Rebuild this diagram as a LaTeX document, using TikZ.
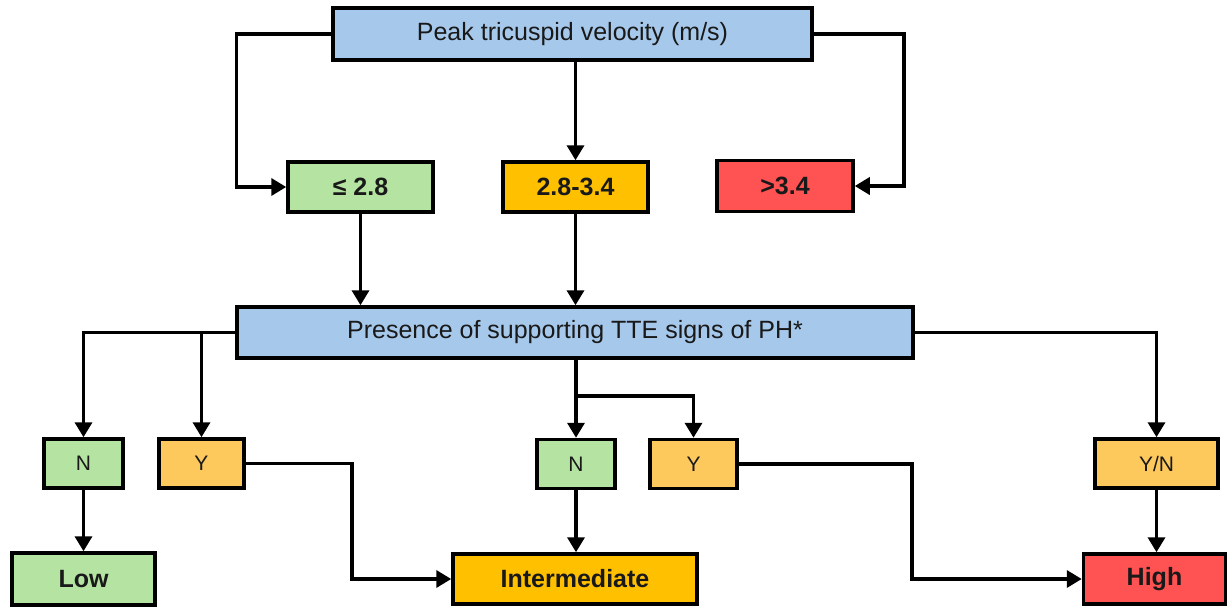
\documentclass[tikz,border=0pt]{standalone}
\usepackage{fontspec}
\setmainfont{Liberation Sans}
\usetikzlibrary{arrows.meta}
\definecolor{headblue}{RGB}{166,200,235}
\definecolor{lowgreen}{RGB}{181,228,162}
\definecolor{midgold}{RGB}{255,192,0}
\definecolor{ansorange}{RGB}{253,200,92}
\definecolor{highred}{RGB}{255,82,82}
\tikzset{
  box/.style={draw=black, line width=3.5pt, inner sep=0pt, text=black!90},
  headbox/.style={box, fill=headblue, font=\fontsize{25}{30}\selectfont},
  gradebox/.style={box, font=\bfseries\fontsize{25}{30}\selectfont},
  ansbox/.style={box, font=\fontsize{21}{25}\selectfont, minimum height=49pt}
}
\begin{document}
\begin{tikzpicture}[x=1pt,y=-1pt, >={Triangle[length=15pt,width=17pt]}, line width=3.5pt, line join=miter]
			\useasboundingbox (0,0) rectangle (1228,608);
			% --- Vận tốc đỉnh ---
			\node[headbox, minimum width=479pt, minimum height=52pt] (top) at (572.5,34) {Peak tricuspid velocity (m/s)};
			\node[gradebox, fill=lowgreen, minimum width=145pt, minimum height=50pt] (lo) at (360.5,187) {≤ 2.8};
			\node[gradebox, fill=midgold, minimum width=145pt, minimum height=50pt] (mid) at (575.5,187) {2.8-3.4};
			\node[gradebox, fill=highred, minimum width=136pt, minimum height=51pt] (hi) at (785,186) {>3.4};
			\draw[->] (top.west) -- ++(-95,0) |- (lo.west);
			\draw[->] (mid.north|-top.south) -- (mid.north);
			\draw[->] (top.east) -- ++(90,0) |- (hi.east);
			% --- Dấu hiệu TTE ---
			\node[headbox, minimum width=676pt, minimum height=51pt] (ph) at (575,332.5) {Presence of supporting TTE signs of PH*};
			\draw[->] (lo.south) -- (lo.south|-ph.north);
			\draw[->] (mid.south) -- (mid.south|-ph.north);
			% --- Trả lời Y/N ---
			\node[ansbox, fill=lowgreen, minimum width=79pt] (n1) at (83.5,463.5) {N};
			\node[ansbox, fill=ansorange, minimum width=85pt] (y1) at (201.5,463.5) {Y};
			\node[ansbox, fill=lowgreen, minimum width=78pt] (n2) at (576,464) {N};
			\node[ansbox, fill=ansorange, minimum width=87pt] (y2) at (693.5,464) {Y};
			\node[ansbox, fill=ansorange, minimum width=123pt] (yn) at (1156.5,463.5) {Y/N};
			\coordinate (split) at (576,396);
			\draw[->] (ph.west) -| (n1.north);
			\draw[->] (y1.north|-ph.west) -- (y1.north);
			\draw[->] (n2.north|-ph.south) -- (n2.north);
			\draw[->] (split) -| (y2.north);
			\draw[->] (ph.east) -| (yn.north);
			% --- Mức nguy cơ ---
			\node[gradebox, fill=lowgreen, minimum width=143pt, minimum height=52pt] (low) at (83.5,579) {Low};
			\node[gradebox, fill=midgold, minimum width=244pt, minimum height=50pt] (inter) at (575,579) {Intermediate};
			\node[gradebox, fill=highred, minimum width=142pt, minimum height=50pt] (high) at (1154.5,579) {High};
			\draw[->] (n1.south) -- (low.north);
			\draw[->] (n2.south) -- (n2.south|-inter.north);
			\draw[->] (yn.south) -- (yn.south|-high.north);
			\draw[->] (y1.east) -- ++(106,0) |- (inter.west);
			\draw[->] (y2.east) -- ++(173,0) |- (high.west);
\end{tikzpicture}
\end{document}
